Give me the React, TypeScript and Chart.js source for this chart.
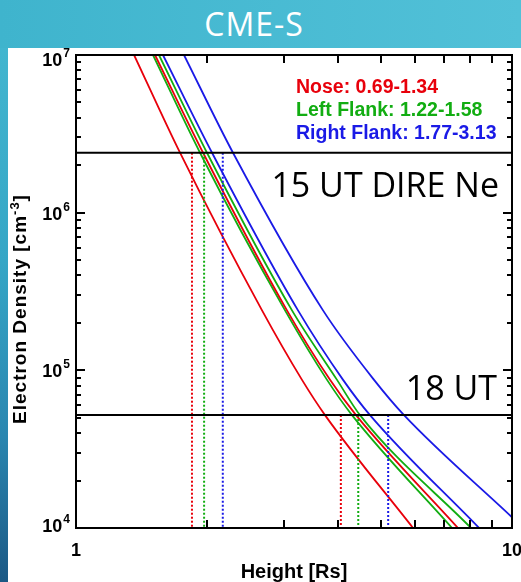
import React, { useEffect, useRef } from "react";
import { Chart, registerables } from "chart.js";

Chart.register(...registerables);

const DENSITY = [1e7, 2.4e6, 2.4e5, 8.7e4, 5.2e4, 1e4];
const RIGHT_HIGH_DENSITY = [1e7, 2.4e6, 2.4e5, 8.7e4, 5.2e4, 1.17e4];

// heights (Rs) of each curve at those densities
const NOSE_LOW = [1.359, 1.732, 2.671, 3.299, 3.725, 5.929];
const NOSE_HIGH = [1.518, 1.956, 3.047, 3.825, 4.388, 7.519];
const LEFT_LOW = [1.502, 1.925, 3.016, 3.765, 4.296, 7.285];
const LEFT_HIGH = [1.55, 1.997, 3.129, 3.969, 4.481, 8.054];
const RIGHT_LOW = [1.583, 2.051, 3.23, 4.098, 4.724, 8.403];
const RIGHT_HIGH = [1.769, 2.291, 3.686, 4.826, 5.654, 10];

// DIRE Ne levels and the mean crossing heights (nose, left, right)
const UT15_LEVEL = 2.4e6;
const UT18_LEVEL = 5.2e4;
const UT15_HEIGHT = [1.845, 1.967, 2.171];
const UT18_HEIGHT = [4.05, 4.44, 5.2];

const LEGEND = ["Nose: 0.69-1.34", "Left Flank: 1.22-1.58", "Right Flank: 1.77-3.13"];
const COLORS = ["#e8000b", "#12ad12", "#1a1ae6"];

const X_MIN = 1;
const X_MAX = 10;
const Y_MIN = 1e4;
const Y_MAX = 1e7;
const X_TICKS = [2, 3, 4, 5, 6, 7, 8, 9];
const X_LABELS = [1, 10];
const Y_DECADES = [1e4, 1e5, 1e6, 1e7];
const Y_EXPONENTS = ["4", "5", "6", "7"];
const MINOR = [2, 3, 4, 5, 6, 7, 8, 9];

const BOLD = "'Liberation Sans', Arial, sans-serif";
const THIN = "'Open Sans', sans-serif";

const curve = (xs: number[], ys: number[], color: string) => ({
  data: xs.map((x, i) => ({ x, y: ys[i] })),
  borderColor: color,
  borderWidth: 1.8,
  pointRadius: 0,
  showLine: true,
  cubicInterpolationMode: "monotone",
  fill: false,
});

const level = (y: number) => ({
  data: [
    { x: X_MIN, y },
    { x: X_MAX, y },
  ],
  borderColor: "#000",
  borderWidth: 2,
  pointRadius: 0,
  showLine: true,
});

const drop = (x: number, top: number, color: string) => ({
  data: [
    { x, y: top },
    { x, y: Y_MIN },
  ],
  borderColor: color,
  borderWidth: 2,
  borderDash: [2, 2],
  pointRadius: 0,
  showLine: true,
});

const frame = {
  id: "frame",
  afterDatasetsDraw(chart: any) {
    const { ctx, chartArea } = chart;
    const { left, right, top, bottom } = chartArea;
    const xs = chart.scales.x;
    const ys = chart.scales.y;
    ctx.save();
    ctx.strokeStyle = "#000";
    ctx.lineWidth = 2;
    ctx.strokeRect(left, top, right - left, bottom - top);

    ctx.beginPath();
    X_TICKS.forEach((v) => {
      const px = Math.round(xs.getPixelForValue(v));
      ctx.moveTo(px, bottom);
      ctx.lineTo(px, bottom - 8);
      ctx.moveTo(px, top);
      ctx.lineTo(px, top + 8);
    });
    Y_DECADES.slice(0, 3).forEach((d) => {
      [1, ...MINOR].forEach((m) => {
        const py = Math.round(ys.getPixelForValue(d * m));
        const len = m === 1 ? 9 : 5;
        ctx.moveTo(left, py);
        ctx.lineTo(left + len, py);
        ctx.moveTo(right, py);
        ctx.lineTo(right - len, py);
      });
    });
    ctx.stroke();

    // tick labels
    ctx.fillStyle = "#000";
    Y_DECADES.forEach((d, i) => {
      const py = Math.min(Math.max(ys.getPixelForValue(d), top + 4), bottom - 3);
      ctx.font = `bold 12px ${BOLD}`;
      const ew = ctx.measureText(Y_EXPONENTS[i]).width;
      ctx.textAlign = "left";
      ctx.textBaseline = "alphabetic";
      ctx.fillText(Y_EXPONENTS[i], left - 6 - ew, py - 2);
      ctx.font = `bold 18px ${BOLD}`;
      ctx.textAlign = "right";
      ctx.fillText("10", left - 7 - ew, py + 7);
    });
    ctx.font = `bold 18px ${BOLD}`;
    ctx.textAlign = "center";
    X_LABELS.forEach((v) => {
      ctx.fillText(String(v), xs.getPixelForValue(v), bottom + 28);
    });

    // axis titles
    ctx.font = `bold 20px ${BOLD}`;
    ctx.fillText("Height [Rs]", (left + right) / 2, bottom + 50);

    ctx.save();
    ctx.translate(26, 309);
    ctx.rotate(-Math.PI / 2);
    const main = "Electron Density [cm";
    ctx.font = `bold 19px ${BOLD}`;
    (ctx as any).letterSpacing = "1px";
    const w1 = ctx.measureText(main).width;
    const w3 = ctx.measureText("]").width;
    ctx.font = `bold 13px ${BOLD}`;
    const w2 = ctx.measureText("-3").width;
    let x0 = -(w1 + w2 + w3) / 2;
    ctx.textAlign = "left";
    ctx.font = `bold 19px ${BOLD}`;
    ctx.fillText(main, x0, 0);
    ctx.font = `bold 13px ${BOLD}`;
    ctx.fillText("-3", x0 + w1, -7);
    ctx.font = `bold 19px ${BOLD}`;
    ctx.fillText("]", x0 + w1 + w2, 0);
    ctx.restore();

    // legend
    ctx.font = `bold 19.5px ${BOLD}`;
    ctx.textAlign = "left";
    LEGEND.forEach((t, i) => {
      ctx.fillStyle = COLORS[i];
      ctx.fillText(t, 296, 93 + i * 23);
    });

    // annotations
    ctx.fillStyle = "#000";
    ctx.font = `34px ${THIN}`;
    ctx.textAlign = "right";
    ctx.fillText("15 UT DIRE Ne", 499, 197);
    ctx.fillText("18 UT", 497, 400);
    ctx.restore();
  },
};

const App: React.FC = () => {
  const chartRef = useRef<HTMLCanvasElement | null>(null);

  useEffect(() => {
    if (!chartRef.current) return;
    const ctx = chartRef.current.getContext("2d");
    if (!ctx) return;

    const chart = new Chart(ctx, {
      type: "scatter",
      data: {
        datasets: [
          level(UT15_LEVEL),
          level(UT18_LEVEL),
          drop(UT15_HEIGHT[0], UT15_LEVEL, COLORS[0]),
          drop(UT15_HEIGHT[1], UT15_LEVEL, COLORS[1]),
          drop(UT15_HEIGHT[2], UT15_LEVEL, COLORS[2]),
          drop(UT18_HEIGHT[0], UT18_LEVEL, COLORS[0]),
          drop(UT18_HEIGHT[1], UT18_LEVEL, COLORS[1]),
          drop(UT18_HEIGHT[2], UT18_LEVEL, COLORS[2]),
          curve(NOSE_LOW, DENSITY, COLORS[0]),
          curve(NOSE_HIGH, DENSITY, COLORS[0]),
          curve(LEFT_LOW, DENSITY, COLORS[1]),
          curve(LEFT_HIGH, DENSITY, COLORS[1]),
          curve(RIGHT_LOW, DENSITY, COLORS[2]),
          curve(RIGHT_HIGH, RIGHT_HIGH_DENSITY, COLORS[2]),
        ] as any,
      },
      options: {
        animation: false,
        responsive: false,
        layout: { padding: { left: 76, top: 55, right: 9, bottom: 54 } },
        scales: {
          x: { type: "logarithmic", min: X_MIN, max: X_MAX, display: false },
          y: { type: "logarithmic", min: Y_MIN, max: Y_MAX, display: false },
        },
        plugins: {
          legend: { display: false },
          tooltip: { enabled: false },
        },
      },
      plugins: [frame],
    });

    return () => {
      chart.destroy();
    };
  }, []);

  return (
    <div
      style={{
        position: "fixed",
        left: 0,
        top: 0,
        width: 521,
        height: 582,
        overflow: "hidden",
        background: "linear-gradient(to bottom, #45b9d1 0%, #35a6c6 45%, #2a86b0 75%, #1b5884 100%)",
      }}
    >
      <div
        style={{
          position: "absolute",
          left: 0,
          top: 0,
          width: 521,
          height: 48,
          background: "linear-gradient(to right, #3fb4cd, #52c1d8)",
        }}
      />
      <div
        style={{
          position: "absolute",
          left: 0,
          top: 0,
          width: 508,
          lineHeight: "48px",
          textAlign: "center",
          color: "#fff",
          fontFamily: THIN,
          fontSize: 32,
          letterSpacing: 1,
        }}
      >
        CME-S
      </div>
      <div style={{ position: "absolute", left: 8, top: 48, right: 0, bottom: 0, background: "#fff" }} />
      <canvas
        ref={chartRef}
        width={521}
        height={582}
        style={{ position: "absolute", left: 0, top: 0 }}
      />
    </div>
  );
};

export default App;
